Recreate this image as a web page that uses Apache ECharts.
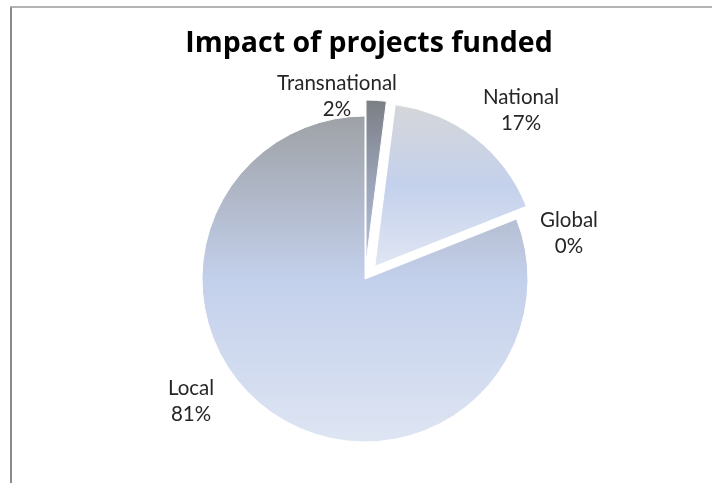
<!DOCTYPE html>
<html>
<head>
<meta charset="utf-8">
<script src="https://cdn.jsdelivr.net/npm/echarts@6/dist/echarts.min.js"></script>
<style>
html,body{margin:0;padding:0;background:#fff;}
#chart{width:712px;height:483px;}
</style>
</head>
<body>
<div id="chart"></div>
<script>
// Data
var categories = ['Transnational', 'National', 'Global', 'Local'];
var values = [2, 17, 0, 81];
var exploded = [true, true, false, false];
var titleText = 'Impact of projects funded';

// Styling (not data)
var sliceGradients = [
  ['#7b7e84', '#9aa3b6', '#b4c0da'],
  ['#d5d6d9', '#c4d1ec', '#e0e6f3'],
  ['#c4d1ec', '#c4d1ec', '#c4d1ec'],
  ['#9ea1a6', '#c3d0eb', '#dee5f3']
];
// label block centres (pixels)
var labelPos = [[337, 96], [521, 110], [569, 233], [191, 401]];

function grad(c) {
  return {
    type: 'linear', x: 0, y: 0, x2: 0, y2: 1,
    colorStops: [
      { offset: 0, color: c[0] },
      { offset: 0.5, color: c[1] },
      { offset: 1, color: c[2] }
    ]
  };
}

var sliceData = categories.map(function (name, i) {
  return {
    name: name,
    value: values[i],
    selected: exploded[i],
    itemStyle: { color: grad(sliceGradients[i]) }
  };
});
var labelData = categories.map(function (name, i) {
  return { name: name, value: values[i] };
});

var pieCenter = [365, 279];
var pieRadius = 163;

var chart = echarts.init(document.getElementById('chart'), null, { renderer: 'canvas' });
chart.setOption({
  backgroundColor: '#ffffff',
  animation: false,
  title: {
    text: titleText,
    left: 364,
    textAlign: 'center',
    top: 24,
    textStyle: {
      fontFamily: 'Open Sans',
      fontWeight: 'bold',
      fontSize: 28.5,
      color: '#000000'
    }
  },
  graphic: [
    { type: 'line', shape: { x1: 11, y1: 7, x2: 11, y2: 483 }, style: { stroke: '#8a8a8a', lineWidth: 2 } },
    { type: 'line', shape: { x1: 10, y1: 7, x2: 712, y2: 7 }, style: { stroke: '#9a9a9a', lineWidth: 1.5 } }
  ],
  series: [{
    type: 'pie',
    center: pieCenter,
    radius: pieRadius,
    startAngle: 90,
    clockwise: true,
    selectedMode: 'multiple',
    selectedOffset: 16,
    emphasis: { disabled: true },
    select: { itemStyle: { borderColor: '#ffffff', borderWidth: 1 } },
    itemStyle: { borderColor: '#ffffff', borderWidth: 1 },
    label: { show: false },
    labelLine: { show: false },
    silent: true,
    data: sliceData
  }, {
    type: 'pie',
    center: pieCenter,
    radius: pieRadius,
    startAngle: 90,
    clockwise: true,
    selectedMode: false,
    silent: true,
    avoidLabelOverlap: false,
    emphasis: { disabled: true },
    itemStyle: { color: 'rgba(0,0,0,0)', borderWidth: 0 },
    label: {
      show: true,
      position: 'outside',
      fontFamily: 'Lato',
      fontSize: 20.5,
      lineHeight: 26,
      color: '#262626',
      formatter: function (p) {
        return p.name + '\n' + Math.round(p.percent) + '%';
      }
    },
    labelLine: { show: false },
    labelLayout: function (params) {
      var pos = labelPos[params.dataIndex];
      return { x: pos[0], y: pos[1], align: 'center', verticalAlign: 'middle' };
    },
    data: labelData
  }]
});
</script>
</body>
</html>
